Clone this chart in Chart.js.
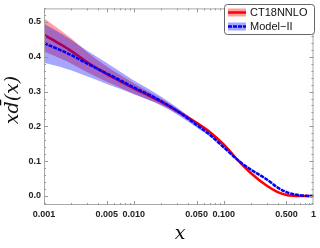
<!DOCTYPE html>
<html>
<head>
<meta charset="utf-8">
<script src="https://cdn.jsdelivr.net/npm/chart.js@4"></script>
<style>
  html, body { margin: 0; padding: 0; background: #fff; }
  #wrap { width: 320px; height: 248px; }
</style>
</head>
<body>
<div id="wrap"><canvas id="pdfChart" width="320" height="248"></canvas></div>
<script>
const xValues = [0.001, 0.0015, 0.002, 0.003, 0.005, 0.007, 0.01, 0.015, 0.02, 0.03, 0.05, 0.07, 0.1, 0.15, 0.2, 0.3, 0.4, 0.5, 0.6, 0.7, 0.8, 1];

const ctCentral = [0.463, 0.437, 0.417, 0.385, 0.350, 0.330, 0.309, 0.287, 0.271, 0.245, 0.210, 0.184, 0.148, 0.098, 0.066, 0.030, 0.011, 0.003, 0.0005, 0, 0, 0];
const ctUpper   = [0.511, 0.478, 0.453, 0.414, 0.372, 0.348, 0.324, 0.298, 0.280, 0.252, 0.215, 0.188, 0.152, 0.101, 0.069, 0.032, 0.013, 0.004, 0.001, 0, 0, 0];
const ctLower   = [0.415, 0.396, 0.381, 0.356, 0.328, 0.312, 0.294, 0.276, 0.262, 0.238, 0.205, 0.180, 0.144, 0.095, 0.063, 0.028, 0.009, 0.002, 0, 0, 0, 0];

const modelCentral = [0.439, 0.420, 0.405, 0.381, 0.352, 0.333, 0.312, 0.290, 0.273, 0.245, 0.204, 0.176, 0.140, 0.099, 0.076, 0.048, 0.024, 0.011, 0.005, 0.002, 0.0005, 0];
const modelUpper   = [0.495, 0.469, 0.449, 0.418, 0.382, 0.358, 0.332, 0.306, 0.286, 0.255, 0.211, 0.181, 0.144, 0.102, 0.079, 0.050, 0.026, 0.012, 0.006, 0.003, 0.001, 0];
const modelLower   = [0.383, 0.371, 0.361, 0.344, 0.322, 0.308, 0.292, 0.274, 0.260, 0.235, 0.197, 0.171, 0.136, 0.096, 0.073, 0.046, 0.022, 0.010, 0.004, 0.001, 0, 0];

const xTickValues = [0.001, 0.005, 0.01, 0.05, 0.1, 0.5, 1];
const xTickLabels = ["0.001", "0.005", "0.010", "0.050", "0.100", "0.500", "1"];
const yTickValues = [0, 0.1, 0.2, 0.3, 0.4, 0.5];
const yTickLabels = ["0.0", "0.1", "0.2", "0.3", "0.4", "0.5"];

const legendNames = ["CT18NNLO", "Model\u2212II"];

const RED_BAND = "rgba(255,0,0,0.38)";
const BLUE_BAND = "rgba(0,0,255,0.35)";
const BLUE_DASH = [4, 1];

function pts(arr) {
  return xValues.map((x, i) => ({ x: x, y: arr[i] }));
}

// frame, inward ticks, axis titles and legend box
const framePlugin = {
  id: "frame",
  afterDraw(chart) {
    const ctx = chart.ctx;
    const a = chart.chartArea;
    const xs = chart.scales.x, ys = chart.scales.y;
    ctx.save();
    ctx.strokeStyle = "#aaa";
    ctx.lineWidth = 1;
    ctx.strokeRect(a.left + 0.5, a.top + 0.5, a.right - a.left - 1, a.bottom - a.top - 1);

    // x ticks (log decades)
    ctx.strokeStyle = "#999";
    ctx.beginPath();
    for (let d = 0.001; d < 1; d *= 10) {
      for (let m = 1; m < 10; m++) {
        const v = d * m;
        const px = Math.round(xs.getPixelForValue(v)) + 0.5;
        const len = (m === 1 || m === 5) ? 4 : 2;
        ctx.moveTo(px, a.bottom); ctx.lineTo(px, a.bottom - len);
        ctx.moveTo(px, a.top); ctx.lineTo(px, a.top + len);
      }
    }
    // y ticks
    for (let k = -1; k <= 27; k++) {
      const v = k * 0.02;
      const py = Math.round(ys.getPixelForValue(v)) + 0.5;
      if (py < a.top || py > a.bottom) continue;
      const len = (k % 5 === 0) ? 4 : 2;
      ctx.moveTo(a.left, py); ctx.lineTo(a.left + len, py);
      ctx.moveTo(a.right, py); ctx.lineTo(a.right - len, py);
    }
    ctx.stroke();

    // axis titles
    ctx.fillStyle = "#111";
    ctx.font = "italic 19px 'DejaVu Serif'";
    ctx.textAlign = "center";
    ctx.textBaseline = "middle";
    ctx.fillText("x", 180, 234);
    ctx.save();
    ctx.translate(13, 100);
    ctx.rotate(-Math.PI / 2);
    ctx.fillText("xd\u0304(x)", 0, 0);
    ctx.restore();

    // legend
    const lx = 224, ly = 4, lw = 90, lh = 30;
    ctx.fillStyle = "#fff";
    ctx.strokeStyle = "#666";
    ctx.beginPath();
    ctx.roundRect(lx + 0.5, ly + 0.5, lw, lh, 3);
    ctx.fill();
    ctx.stroke();
    const rows = [
      { y: 12.5, band: RED_BAND, line: "#ff0000", dash: [] },
      { y: 26.5, band: BLUE_BAND, line: "#0000ff", dash: BLUE_DASH }
    ];
    rows.forEach((r, i) => {
      ctx.fillStyle = r.band;
      ctx.fillRect(228, r.y - 4, 18, 8);
      ctx.strokeStyle = r.line;
      ctx.lineWidth = 2.5;
      ctx.setLineDash(r.dash);
      ctx.beginPath();
      ctx.moveTo(228, r.y); ctx.lineTo(246, r.y);
      ctx.stroke();
      ctx.setLineDash([]);
      ctx.fillStyle = "#111";
      ctx.font = "11px 'Liberation Sans'";
      ctx.textAlign = "left";
      ctx.fillText(legendNames[i], 250, r.y + 0.5);
    });
    ctx.restore();
  }
};

const ctx = document.getElementById("pdfChart").getContext("2d");
const chart = new Chart(ctx, {
  type: "line",
  data: {
    datasets: [
      { data: pts(ctUpper), borderWidth: 0, backgroundColor: RED_BAND, fill: "+1", order: 6 },
      { data: pts(ctLower), borderWidth: 0, fill: false, order: 6 },
      { data: pts(ctCentral), borderColor: "#ff0000", borderWidth: 2.5, fill: false, order: 5 },
      { data: pts(modelUpper), borderWidth: 0, backgroundColor: BLUE_BAND, fill: "+1", order: 4 },
      { data: pts(modelLower), borderWidth: 0, fill: false, order: 4 },
      { data: pts(modelCentral), borderColor: "#0000ff", borderWidth: 2.5, borderDash: BLUE_DASH, fill: false, order: 3 }
    ]
  },
  options: {
    responsive: false,
    animation: false,
    events: [],
    layout: { padding: { left: 0, right: 4, top: 2, bottom: 0 } },
    elements: {
      point: { radius: 0 },
      line: { cubicInterpolationMode: "monotone" }
    },
    plugins: { legend: { display: false }, tooltip: { enabled: false } },
    scales: {
      x: {
        type: "logarithmic",
        min: 0.001,
        max: 1,
        grid: { display: false, drawTicks: false },
        border: { display: false },
        afterBuildTicks: s => { s.ticks = xTickValues.map(v => ({ value: v })); },
        afterFit: s => { s.height = 43; },
        ticks: {
          autoSkip: false,
          maxRotation: 0,
          padding: 4,
          color: "#222",
          font: { family: "Liberation Sans", size: 9, weight: "bold" },
          callback: (v, i) => xTickLabels[i]
        }
      },
      y: {
        min: -0.026,
        max: 0.539,
        grid: { display: false, drawTicks: false },
        border: { display: false },
        afterBuildTicks: s => { s.ticks = yTickValues.map(v => ({ value: v })); },
        afterFit: s => { s.width = 44; },
        ticks: {
          padding: 3,
          color: "#222",
          font: { family: "Liberation Sans", size: 9, weight: "bold" },
          callback: (v, i) => yTickLabels[i]
        }
      }
    }
  },
  plugins: [framePlugin]
});
</script>
</body>
</html>
